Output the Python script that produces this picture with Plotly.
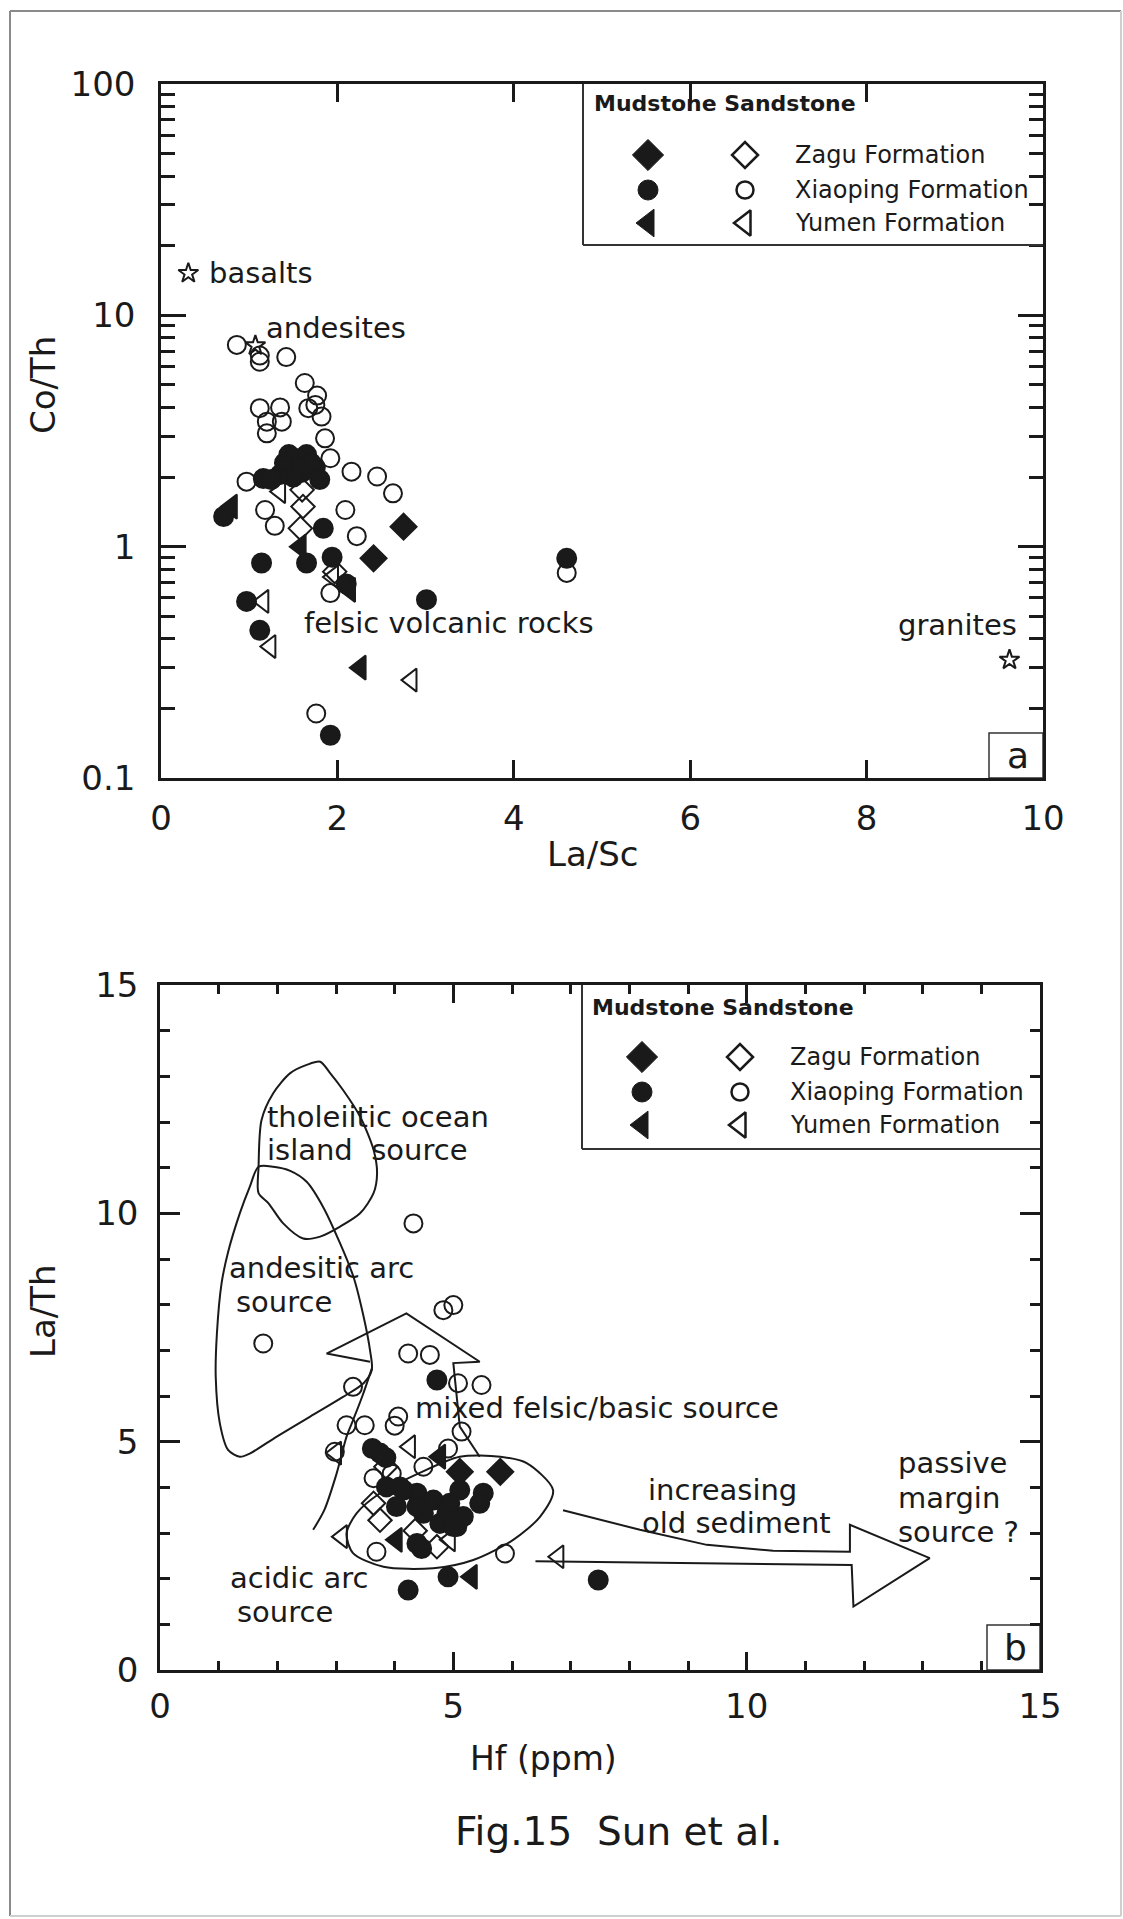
import plotly.graph_objects as go

W, H = 1123, 1919
FONT = "DejaVu Sans"
INK = "#1a1a1a"

# ---------------- Panel a : La/Sc vs Co/Th ----------------
a_zagu_mud_x = [2.75, 2.41]
a_zagu_mud_y = [1.22, 0.89]
a_zagu_sand_x = [1.60, 1.61, 1.58, 1.97]
a_zagu_sand_y = [1.76, 1.49, 1.20, 0.78]

a_xiao_mud_x = [0.71, 1.14, 0.97, 1.12, 1.84, 1.65, 1.94, 2.10, 3.01, 4.60, 1.92,
                1.16, 1.45, 1.55, 1.65, 1.75, 1.60, 1.50, 1.35, 1.25, 1.80, 1.70, 1.40, 1.55]
a_xiao_mud_y = [1.35, 0.85, 0.58, 0.435, 1.20, 0.85, 0.90, 0.69, 0.59, 0.89, 0.153,
                1.97, 2.50, 2.40, 2.50, 2.20, 2.10, 2.00, 2.05, 1.95, 1.95, 2.30, 2.30, 2.20]
a_xiao_sand_x = [0.86, 1.12, 1.12, 1.42, 1.63, 1.77, 1.12, 1.35, 1.67, 1.82, 1.20, 1.37,
                 1.20, 1.86, 1.92, 2.16, 2.45, 2.63, 0.97, 1.18, 1.29, 2.09, 2.22, 1.92,
                 1.76, 4.60, 1.75]
a_xiao_sand_y = [7.45, 6.30, 6.70, 6.60, 5.10, 4.50, 3.97, 4.00, 3.97, 3.65, 3.47, 3.47,
                 3.09, 2.94, 2.41, 2.11, 2.01, 1.70, 1.91, 1.44, 1.23, 1.44, 1.11, 0.63,
                 0.19, 0.77, 4.10]

a_yumen_mud_x = [0.80, 1.58, 2.26, 2.14, 1.42]
a_yumen_mud_y = [1.49, 1.00, 0.30, 0.65, 2.30]
a_yumen_sand_x = [1.35, 1.16, 1.24, 2.84, 1.95]
a_yumen_sand_y = [1.73, 0.58, 0.37, 0.265, 0.74]

# reference rock compositions
ref_rocks = ["basalts", "andesites", "granites"]
ref_x = [0.31, 1.07, 9.62]
ref_y = [15.2, 7.4, 0.324]

# ---------------- Panel b : Hf vs La/Th ----------------
b_zagu_mud_x = [5.11, 5.80]
b_zagu_mud_y = [4.34, 4.34]
b_zagu_sand_x = [3.64, 3.75, 4.72, 4.35, 3.85]
b_zagu_sand_y = [3.65, 3.28, 2.70, 3.05, 4.45]

b_xiao_mud_x = [4.72, 3.62, 3.75, 3.85, 4.09, 4.38, 4.66, 5.11, 5.51, 5.45, 4.89, 5.06, 4.49,
                3.86, 4.03, 4.77, 4.15, 4.38, 4.94, 5.17, 4.38, 5.00, 4.46, 4.23, 4.91, 7.47]
b_xiao_mud_y = [6.35, 4.85, 4.75, 4.65, 4.01, 3.87, 3.72, 3.94, 3.87, 3.65, 3.43, 3.14, 3.43,
                4.01, 3.58, 3.21, 3.94, 3.58, 3.65, 3.36, 2.77, 3.14, 2.66, 1.75, 2.04, 1.97]
b_xiao_sand_x = [4.32, 5.00, 4.83, 1.76, 4.23, 4.60, 5.08, 5.48, 3.29, 3.18, 3.49, 4.06,
                 2.98, 5.14, 4.91, 4.49, 3.64, 3.69, 5.88, 4.00, 3.95]
b_xiao_sand_y = [9.78, 7.99, 7.88, 7.15, 6.93, 6.90, 6.28, 6.24, 6.20, 5.36, 5.36, 5.55,
                 4.78, 5.22, 4.85, 4.45, 4.20, 2.59, 2.55, 5.35, 4.30]

b_yumen_mud_x = [4.77, 4.03, 5.31]
b_yumen_mud_y = [4.67, 2.85, 2.04]
b_yumen_sand_x = [3.00, 4.26, 3.10, 4.94, 6.79]
b_yumen_sand_y = [4.75, 4.89, 2.92, 2.85, 2.48]

# provenance fields (Hf, La/Th)
tholeiitic_x = [2.73, 2.50, 2.22, 1.93, 1.73, 1.68, 1.68, 1.85, 2.10, 2.44, 2.73, 3.07,
                3.41, 3.64, 3.70, 3.64, 3.41, 3.12, 2.90, 2.73]
tholeiitic_y = [13.32, 13.25, 13.07, 12.63, 12.04, 11.02, 10.44, 10.22, 9.78, 9.45, 9.49, 9.71,
                10.00, 10.44, 10.88, 11.39, 12.12, 12.70, 13.07, 13.32]

andesitic_x = [1.68, 1.93, 2.22, 2.50, 2.78, 3.07, 3.30, 3.47, 3.58, 3.61, 3.47, 3.12, 2.56,
               1.99, 1.53, 1.36, 1.16, 1.02, 0.95, 0.97, 1.05, 1.16, 1.36, 1.53, 1.68]
andesitic_y = [11.02, 11.02, 10.93, 10.69, 10.14, 9.34, 8.60, 7.74, 7.00, 6.57, 6.28, 5.98, 5.55,
               5.11, 4.74, 4.67, 4.82, 5.40, 6.42, 7.37, 8.47, 9.15, 10.00, 10.58, 11.02]

acidic_x = [5.11, 4.40, 3.75, 3.35, 3.18, 3.29, 3.81, 4.66, 5.34, 6.02, 6.48, 6.70, 6.25, 5.80, 5.11]
acidic_y = [4.67, 4.30, 3.87, 3.43, 2.99, 2.56, 2.26, 2.23, 2.41, 2.85, 3.36, 3.94, 4.53, 4.67, 4.67]

acidic_edge_x = [3.61, 3.45, 3.30, 3.18, 3.01, 2.80, 2.61]
acidic_edge_y = [6.60, 6.00, 5.50, 5.11, 4.30, 3.50, 3.07]

mixed_arrow_x = [3.58, 2.84, 4.20, 5.45, 5.00, 5.11, 5.45]
mixed_arrow_y = [6.75, 6.93, 7.81, 6.75, 6.72, 5.33, 4.67]

old_sed_arrow_x = [6.87, 8.18, 9.32, 10.45, 11.76, 11.76, 13.12, 11.82, 11.79, 6.40]
old_sed_arrow_y = [3.50, 3.07, 2.74, 2.61, 2.59, 3.18, 2.45, 1.39, 2.30, 2.38]

# legend rows
legend_labels = ["Zagu Formation", "Xiaoping Formation", "Yumen Formation"]
mud_symbols = ["diamond", "circle", "triangle-left"]
sand_symbols = ["diamond-open", "circle-open", "triangle-left-open"]


def px(x):
    return x / W


def py(y):
    return 1 - y / H


fig = go.Figure()


def add_points(x, y, symbol, xa, ya, size=19):
    fig.add_trace(go.Scatter(
        x=x, y=y, mode="markers", xaxis=xa, yaxis=ya, showlegend=False,
        hoverinfo="skip",
        marker=dict(symbol=symbol, size=size, color=INK,
                    line=dict(color=INK, width=2)),
    ))


def add_outline(x, y, xa, ya, shape="linear"):
    fig.add_trace(go.Scatter(
        x=x, y=y, mode="lines", xaxis=xa, yaxis=ya, showlegend=False,
        hoverinfo="skip", line=dict(color=INK, width=2, shape=shape, smoothing=0.8),
    ))


# ---- panel a marks ----
add_points(ref_x, ref_y, "star-open", "x", "y", size=15)
add_points(a_xiao_sand_x, a_xiao_sand_y, "circle-open", "x", "y", 18)
add_points(a_zagu_sand_x, a_zagu_sand_y, "diamond-open", "x", "y", 18)
add_points(a_yumen_sand_x, a_yumen_sand_y, "triangle-left-open", "x", "y", 20)
add_points(a_xiao_mud_x, a_xiao_mud_y, "circle", "x", "y", 19)
add_points(a_zagu_mud_x, a_zagu_mud_y, "diamond", "x", "y", 20)
add_points(a_yumen_mud_x, a_yumen_mud_y, "triangle-left", "x", "y", 21)

# ---- panel b fields ----
add_outline(tholeiitic_x, tholeiitic_y, "x2", "y2", "spline")
add_outline(andesitic_x, andesitic_y, "x2", "y2", "spline")
add_outline(acidic_x, acidic_y, "x2", "y2", "spline")
add_outline(acidic_edge_x, acidic_edge_y, "x2", "y2", "spline")
add_outline(mixed_arrow_x, mixed_arrow_y, "x2", "y2")
add_outline(old_sed_arrow_x, old_sed_arrow_y, "x2", "y2")

# ---- panel b marks ----
add_points(b_xiao_sand_x, b_xiao_sand_y, "circle-open", "x2", "y2", 18)
add_points(b_zagu_sand_x, b_zagu_sand_y, "diamond-open", "x2", "y2", 18)
add_points(b_yumen_sand_x, b_yumen_sand_y, "triangle-left-open", "x2", "y2", 20)
add_points(b_xiao_mud_x, b_xiao_mud_y, "circle", "x2", "y2", 19)
add_points(b_zagu_mud_x, b_zagu_mud_y, "diamond", "x2", "y2", 20)
add_points(b_yumen_mud_x, b_yumen_mud_y, "triangle-left", "x2", "y2", 21)

# ---- legend keys, drawn on a pixel-space overlay axis ----
legend_boxes = [
    dict(left=583, right=1043, top=84, bottom=245, title=(592, 103),
         rows=[155, 190, 223], mud_x=648, sand_x=745, text_x=793),
    dict(left=582, right=1040, top=985, bottom=1149, title=(590, 1007),
         rows=[1057, 1092, 1125], mud_x=642, sand_x=740, text_x=788),
]
mud_key_size = {"diamond": 24, "circle": 20, "triangle-left": 24}
sand_key_size = {"diamond-open": 20, "circle-open": 17, "triangle-left-open": 22}

annotations = []
shapes = []
for box in legend_boxes:
    for label, ms, ss, ry in zip(legend_labels, mud_symbols, sand_symbols, box["rows"]):
        fig.add_trace(go.Scatter(
            x=[box["mud_x"]], y=[ry], mode="markers", xaxis="x3", yaxis="y3",
            showlegend=False, hoverinfo="skip",
            marker=dict(symbol=ms, size=mud_key_size[ms], color=INK, line=dict(color=INK, width=1))))
        fig.add_trace(go.Scatter(
            x=[box["sand_x"]], y=[ry], mode="markers", xaxis="x3", yaxis="y3",
            showlegend=False, hoverinfo="skip",
            marker=dict(symbol=ss, size=sand_key_size[ss], color=INK, line=dict(color=INK, width=2.5))))
        annotations.append(dict(x=px(box["text_x"]), y=py(ry), xref="paper", yref="paper",
                                text=label, showarrow=False, xanchor="left", yanchor="middle",
                                font=dict(family=FONT, size=24, color=INK)))
    annotations.append(dict(x=px(box["title"][0]), y=py(box["title"][1]), xref="paper", yref="paper",
                            text="<b>Mudstone Sandstone</b>", showarrow=False,
                            xanchor="left", yanchor="middle",
                            font=dict(family=FONT, size=22, color=INK)))
    shapes.append(dict(type="line", xref="paper", yref="paper",
                       x0=px(box["left"]), x1=px(box["left"]), y0=py(box["top"]), y1=py(box["bottom"]),
                       line=dict(color="#333", width=2)))
    shapes.append(dict(type="line", xref="paper", yref="paper",
                       x0=px(box["left"]), x1=px(box["right"]), y0=py(box["bottom"]), y1=py(box["bottom"]),
                       line=dict(color="#333", width=2)))

# panel letters in small boxes
for letter, (l, t, r, b) in [("a", (989, 733, 1043, 778)), ("b", (987, 1625, 1040, 1670))]:
    shapes.append(dict(type="rect", xref="paper", yref="paper", x0=px(l), x1=px(r), y0=py(b), y1=py(t),
                       line=dict(color="#333", width=1.5), fillcolor="white", layer="below"))
    annotations.append(dict(x=px((l + r) / 2 + 2), y=py((t + b) / 2), xref="paper", yref="paper",
                            text=letter, showarrow=False, xanchor="center", yanchor="middle",
                            font=dict(family=FONT, size=36, color=INK)))

# outer frame
frame = [((10, 11), (10, 1916), "#8a8a8a"), ((10, 11), (1121, 11), "#8a8a8a"),
         ((1121, 11), (1121, 1916), "#cfcfcf"), ((10, 1916), (1121, 1916), "#cfcfcf")]
for (x0, y0), (x1, y1), col in frame:
    shapes.append(dict(type="line", xref="paper", yref="paper", x0=px(x0), x1=px(x1),
                       y0=py(y0), y1=py(y1), line=dict(color=col, width=2)))


def note(text, x, y, size=29, anchor="left"):
    annotations.append(dict(x=px(x), y=py(y), xref="paper", yref="paper", text=text,
                            showarrow=False, xanchor=anchor, yanchor="middle",
                            font=dict(family=FONT, size=size, color=INK)))


# panel a labels
note("basalts", 207, 273)
note("andesites", 264, 328)
note("felsic volcanic rocks", 302, 623)
note("granites", 957, 625, anchor="center")

# panel b labels
note("tholeiitic ocean", 265, 1117)
note("island  source", 265, 1150)
note("andesitic arc", 227, 1268)
note("source", 234, 1302)
note("mixed felsic/basic source", 413, 1408)
note("acidic arc", 228, 1578)
note("source", 235, 1612)
note("increasing", 646, 1490)
note("old sediment", 640, 1523)
note("passive", 896, 1463)
note("margin", 896, 1498)
note("source ?", 896, 1532)

# axis titles and caption
note("La/Sc", 593, 854, size=34, anchor="center")
note("Hf (ppm)", 543, 1758, size=33, anchor="center")
note("Fig.15  Sun et al.", 618, 1831, size=39, anchor="center")
for text, y in [("Co/Th", 385), ("La/Th", 1311)]:
    annotations.append(dict(x=px(43), y=py(y), xref="paper", yref="paper", text=text,
                            showarrow=False, textangle=-90, xanchor="center", yanchor="middle",
                            font=dict(family=FONT, size=34, color=INK)))

axis_common = dict(showline=True, linecolor=INK, linewidth=2.5, mirror="ticks",
                   ticks="inside", tickcolor=INK, tickwidth=2.5, showgrid=False,
                   zeroline=False, tickfont=dict(family=FONT, size=34, color=INK),
                   fixedrange=True, automargin=False)

fig.update_layout(
    width=W, height=H, autosize=False,
    margin=dict(l=0, r=0, t=0, b=0, pad=0, autoexpand=False),
    paper_bgcolor="white", plot_bgcolor="rgba(0,0,0,0)",
    showlegend=False,
    font=dict(family=FONT, color=INK),
    xaxis=dict(domain=[px(161), px(1043)], range=[0, 10], anchor="y",
               tickvals=[0, 2, 4, 6, 8, 10], ticklen=18, ticklabelstandoff=8, **axis_common),
    yaxis=dict(domain=[py(778), py(84)], type="log", range=[-1, 2], anchor="x",
               tickvals=[0.1, 1, 10, 100], ticktext=["0.1", "1", "10", "100"],
               ticklen=25, ticklabelstandoff=16,
               minor=dict(tickvals=[m * d for d in (0.1, 1, 10) for m in range(2, 10)],
                          ticks="inside", ticklen=14, tickwidth=2.5, tickcolor=INK, showgrid=False),
               **axis_common),
    xaxis2=dict(domain=[px(160), px(1040)], range=[0, 15], anchor="y2",
                tickvals=[0, 5, 10, 15], ticklen=18, ticklabelstandoff=4,
                minor=dict(dtick=1, ticks="inside", ticklen=9, tickwidth=2.5, tickcolor=INK, showgrid=False),
                **axis_common),
    yaxis2=dict(domain=[py(1670), py(985)], range=[0, 15], anchor="x2",
                tickvals=[0, 5, 10, 15], ticklen=20, ticklabelstandoff=12,
                minor=dict(dtick=1, ticks="inside", ticklen=10, tickwidth=2.5, tickcolor=INK, showgrid=False),
                **axis_common),
    xaxis3=dict(domain=[0, 1], range=[0, W], visible=False, anchor="y3", fixedrange=True),
    yaxis3=dict(domain=[0, 1], range=[H, 0], visible=False, anchor="x3", fixedrange=True),
    annotations=annotations,
    shapes=shapes,
)

fig.write_html("out.html")
